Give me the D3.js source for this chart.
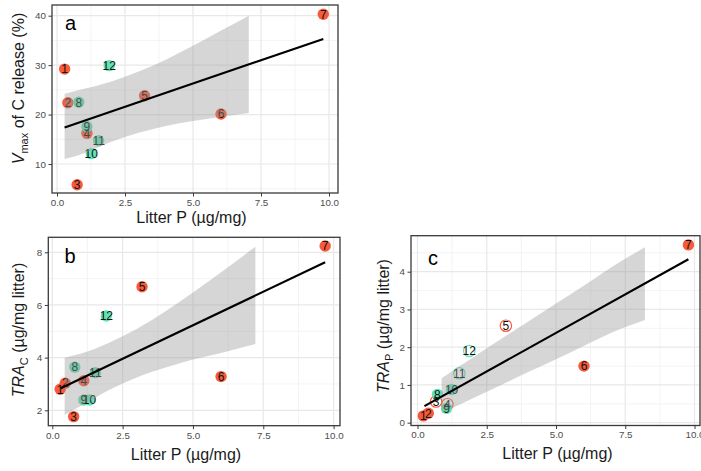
<!DOCTYPE html>
<html>
<head>
<meta charset="utf-8">
<script src="https://cdn.jsdelivr.net/npm/d3@7/dist/d3.min.js"></script>
<style>
  html, body { margin: 0; padding: 0; background: #ffffff; }
  svg { display: block; font-family: "Liberation Sans", Arial, Helvetica, sans-serif; }
</style>
</head>
<body>
<svg id="chart" width="701" height="471"></svg>
<script>
// ---------------- data ----------------
const ids = [1, 2, 3, 4, 5, 6, 7, 8, 9, 10, 11, 12];
const groups = ["A","A","A","A","A","A","A","B","B","B","B","B"];

// shared x: litter P (ug/mg)
const xTicks = [0, 2.5, 5, 7.5, 10];

// panel a: Vmax of C release (%)
const aP    = [0.28, 0.40, 0.74, 1.10, 3.22, 6.03, 9.79, 0.80, 1.10, 1.26, 1.53, 1.92];
const aVmax = [29.2, 22.4, 5.8, 16.2, 23.8, 20.1, 40.3, 22.5, 17.6, 12.1, 14.7, 29.9];
const aYTicks = [10, 20, 30, 40];
const aFitX = [0.28, 9.79];
const aFitY = [17.4, 35.3];
const aBandX  = [0.28, 1, 2, 3, 4, 5, 6, 7.05];
const aBandHi = [24.2, 25.2, 26.7, 28.7, 31.1, 33.9, 36.9, 40.0];
const aBandLo = [11.0, 12.2, 14.5, 16.3, 17.7, 18.7, 19.5, 20.3];

// panel b: TRA_C (ug/mg litter)
const bP    = [0.28, 0.46, 0.76, 1.12, 3.19, 6.00, 9.70, 0.80, 1.12, 1.32, 1.53, 1.92];
const bTRA  = [2.80, 3.03, 1.76, 3.12, 6.69, 3.28, 8.24, 3.64, 2.39, 2.39, 3.43, 5.58];
const bYTicks = [2, 4, 6, 8];
const bFitX = [0.30, 9.70];
const bFitY = [2.84, 7.62];
const bBandX  = [0.44, 1, 2, 3, 4, 5, 6, 7.22];
const bBandHi = [4.00, 4.15, 4.56, 5.09, 5.74, 6.47, 7.24, 8.21];
const bBandLo = [1.82, 2.15, 2.76, 3.25, 3.62, 3.93, 4.18, 4.52];

// panel c: TRA_P (ug/mg litter)
const cP    = [0.21, 0.39, 0.67, 1.08, 3.19, 6.01, 9.78, 0.72, 1.05, 1.23, 1.51, 1.87];
const cTRA  = [0.18, 0.25, 0.56, 0.49, 2.57, 1.50, 4.71, 0.75, 0.38, 0.88, 1.31, 1.90];
const cShape = ["solid","solid","open","open","open","solid","solid","solid","solid","solid","open","open"];
const cYTicks = [0, 1, 2, 3, 4];
const cFitX = [0.25, 9.78];
const cFitY = [0.44, 4.33];
const cBandX  = [0.87, 2, 3, 4, 5, 6, 7, 8.21];
const cBandHi = [1.18, 1.73, 2.21, 2.68, 3.16, 3.63, 4.12, 4.65];
const cBandLo = [0.25, 0.65, 0.99, 1.34, 1.68, 2.03, 2.38, 2.72];

// ---------------- styles ----------------
const colors = { A: "#f65a3b", B: "#63e2b3" };
const svg = d3.select("#chart");

function minorOf(ticks) {
  const out = [];
  const step = ticks[1] - ticks[0];
  out.push(ticks[0] - step / 2);
  for (let i = 0; i < ticks.length; i++) out.push(ticks[i] + step / 2);
  return out;
}

function drawPanel(cfg) {
  const f = cfg.frame;
  const x = d3.scaleLinear().domain([0, 10]).range(cfg.xRange);
  const y = d3.scaleLinear().domain(cfg.yDomain).range(cfg.yRange);
  const g = svg.append("g");
  const clipId = "clip-" + cfg.letter;
  svg.append("clipPath").attr("id", clipId)
    .append("rect").attr("x", f.x0).attr("y", f.y0)
    .attr("width", f.x1 - f.x0).attr("height", f.y1 - f.y0);

  const inner = g.append("g").attr("clip-path", `url(#${clipId})`);
  inner.append("rect").attr("x", f.x0).attr("y", f.y0)
    .attr("width", f.x1 - f.x0).attr("height", f.y1 - f.y0).attr("fill", "#fff");

  // grid
  const xMin = minorOf(xTicks), yMin = minorOf(cfg.yTicks);
  inner.selectAll(".vmin").data(xMin).enter().append("line")
    .attr("x1", d => x(d)).attr("x2", d => x(d)).attr("y1", f.y0).attr("y2", f.y1)
    .attr("stroke", "#ececec").attr("stroke-width", 0.6);
  inner.selectAll(".hmin").data(yMin).enter().append("line")
    .attr("y1", d => y(d)).attr("y2", d => y(d)).attr("x1", f.x0).attr("x2", f.x1)
    .attr("stroke", "#ececec").attr("stroke-width", 0.6);
  inner.selectAll(".vmaj").data(xTicks).enter().append("line")
    .attr("x1", d => x(d)).attr("x2", d => x(d)).attr("y1", f.y0).attr("y2", f.y1)
    .attr("stroke", "#e8e8e8").attr("stroke-width", 1.2);
  inner.selectAll(".hmaj").data(cfg.yTicks).enter().append("line")
    .attr("y1", d => y(d)).attr("y2", d => y(d)).attr("x1", f.x0).attr("x2", f.x1)
    .attr("stroke", "#e8e8e8").attr("stroke-width", 1.2);

  // points
  const pts = ids.map((id, i) => ({ id, g: groups[i], px: cfg.xs[i], py: cfg.ys[i],
                                     shape: cfg.shapes ? cfg.shapes[i] : "solid" }));
  inner.selectAll(".pt").data(pts).enter().append("circle")
    .attr("cx", d => x(d.px)).attr("cy", d => y(d.py)).attr("r", 5.7)
    .attr("fill", d => d.shape === "open" ? "#ffffff" : colors[d.g])
    .attr("stroke", d => d.shape === "open" ? colors[d.g] : "none")
    .attr("stroke-width", 1.2);
  inner.selectAll(".lab").data(pts).enter().append("text")
    .attr("x", d => x(d.px)).attr("y", d => y(d.py)).attr("dy", "0.36em")
    .attr("text-anchor", "middle").attr("font-size", 12).attr("fill", "#111")
    .text(d => d.id);

  // confidence band (drawn over points)
  const band = cfg.bandX.map((v, i) => ({ x: v, hi: cfg.bandHi[i], lo: cfg.bandLo[i] }));
  inner.append("path").datum(band)
    .attr("d", d3.area().x(d => x(d.x)).y0(d => y(d.lo)).y1(d => y(d.hi)).curve(d3.curveMonotoneX))
    .attr("fill", "#999999").attr("fill-opacity", 0.4);

  // fit line
  const fit = cfg.fitX.map((v, i) => ({ x: v, y: cfg.fitY[i] }));
  inner.append("path").datum(fit)
    .attr("d", d3.line().x(d => x(d.x)).y(d => y(d.y)))
    .attr("fill", "none").attr("stroke", "#000").attr("stroke-width", 2.1);

  // frame
  g.append("rect").attr("x", f.x0).attr("y", f.y0)
    .attr("width", f.x1 - f.x0).attr("height", f.y1 - f.y0)
    .attr("fill", "none").attr("stroke", "#3a3a3a").attr("stroke-width", 1.3);

  // axes
  const ax = g.append("g").attr("transform", `translate(0,${f.y1})`)
    .call(d3.axisBottom(x).tickValues(xTicks).tickFormat(d3.format(".1f"))
      .tickSize(3.5).tickPadding(2.5).tickSizeOuter(0));
  const ay = g.append("g").attr("transform", `translate(${f.x0},0)`)
    .call(d3.axisLeft(y).tickValues(cfg.yTicks).tickFormat(d3.format("d"))
      .tickSize(3.5).tickPadding(2.5).tickSizeOuter(0));
  [ax, ay].forEach(a => {
    a.select(".domain").remove();
    a.selectAll(".tick line").attr("stroke", "#3a3a3a").attr("stroke-width", 1);
    a.selectAll(".tick text").attr("fill", "#4d4d4d").attr("font-size", 9.8)
      .attr("font-family", "Liberation Sans, Arial, sans-serif");
  });

  // panel letter
  g.append("text").attr("x", cfg.letterPos[0]).attr("y", cfg.letterPos[1])
    .attr("font-size", 20).attr("fill", "#000").text(cfg.letter);

  // x title
  g.append("text").attr("x", cfg.xTitlePos[0]).attr("y", cfg.xTitlePos[1])
    .attr("text-anchor", "middle").attr("font-size", 16).attr("fill", "#1a1a1a")
    .text("Litter P (\u00b5g/mg)");

  // y title
  const yt = g.append("text")
    .attr("transform", `translate(${cfg.yTitlePos[0]},${cfg.yTitlePos[1]}) rotate(-90)`)
    .attr("text-anchor", "middle").attr("font-size", 16).attr("fill", "#1a1a1a");
  yt.append("tspan").attr("font-style", "italic").text(cfg.yMain);
  yt.append("tspan").attr("font-size", 11).attr("dy", 4).text(cfg.ySub);
  yt.append("tspan").attr("dy", -4).text(cfg.yRest);
}

drawPanel({
  letter: "a",
  frame: { x0: 52, x1: 338, y0: 5, y1: 193 },
  xRange: [57, 329], yDomain: [10, 40], yRange: [164, 15.7],
  yTicks: aYTicks, xs: aP, ys: aVmax,
  fitX: aFitX, fitY: aFitY, bandX: aBandX, bandHi: aBandHi, bandLo: aBandLo,
  letterPos: [65, 30], xTitlePos: [191.5, 222.5], yTitlePos: [24, 88.5],
  yMain: "V", ySub: "max", yRest: " of C release (%)"
});

drawPanel({
  letter: "b",
  frame: { x0: 48.3, x1: 340, y0: 237.3, y1: 425.7 },
  xRange: [52.3, 333.6], yDomain: [2, 8], yRange: [410.3, 252.3],
  yTicks: bYTicks, xs: bP, ys: bTRA,
  fitX: bFitX, fitY: bFitY, bandX: bBandX, bandHi: bBandHi, bandLo: bBandLo,
  letterPos: [64.5, 262.5], xTitlePos: [186, 460], yTitlePos: [24, 330],
  yMain: "TRA", ySub: "C", yRest: " (\u00b5g/mg litter)"
});

drawPanel({
  letter: "c",
  frame: { x0: 411, x1: 700, y0: 235.7, y1: 425.5 },
  xRange: [417.5, 694.5], yDomain: [0, 4], yRange: [422.7, 271.7],
  yTicks: cYTicks, xs: cP, ys: cTRA, shapes: cShape,
  fitX: cFitX, fitY: cFitY, bandX: cBandX, bandHi: cBandHi, bandLo: cBandLo,
  letterPos: [428, 265], xTitlePos: [557.5, 459], yTitlePos: [389, 326],
  yMain: "TRA", ySub: "P", yRest: " (\u00b5g/mg litter)"
});
</script>
</body>
</html>
